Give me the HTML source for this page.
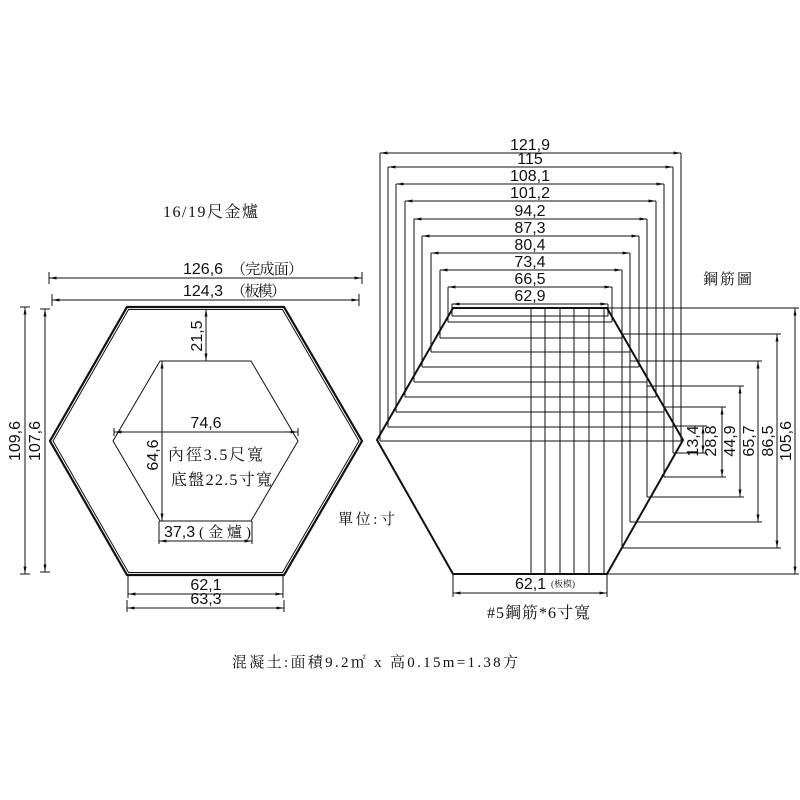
<!DOCTYPE html>
<html><head><meta charset="utf-8"><style>
html,body{margin:0;padding:0;background:#fff;}
svg{display:block;}
.n{font-family:"Liberation Sans",sans-serif;font-size:16px;fill:#111;}
.c{font-family:"Liberation Serif","Noto Serif CJK TC","Noto Sans CJK TC",serif;fill:#111;}
</style></head><body>
<svg width="800" height="800" viewBox="0 0 800 800" xmlns="http://www.w3.org/2000/svg">
<defs>
<marker id="a" viewBox="0 0 10 4" refX="10" refY="2" markerWidth="8" markerHeight="3" orient="auto-start-reverse" markerUnits="userSpaceOnUse"><path d="M0,0 L10,2 L0,4z" fill="#111"/></marker>
</defs>
<g stroke="#111" fill="none" stroke-width="1">
<polygon points="127,307 284,307 362,441 284,575 127,575 50,441" stroke-width="2.2"/>
<polygon points="128.5,309.5 282.5,309.5 359,441 282.5,572.5 128.5,572.5 53,441" stroke-width="1"/>
<polygon points="160,361 251,361 298,441 251,521 160,521 113,441"/>
<line x1="49" y1="278" x2="362" y2="278" marker-start="url(#a)" marker-end="url(#a)"/>
<line x1="49" y1="272" x2="49" y2="284"/><line x1="362" y1="272" x2="362" y2="284"/>
<line x1="52" y1="300" x2="359" y2="300" marker-start="url(#a)" marker-end="url(#a)"/>
<line x1="52" y1="294" x2="52" y2="306"/><line x1="359" y1="294" x2="359" y2="306"/>
<line x1="25" y1="307" x2="25" y2="574" marker-start="url(#a)" marker-end="url(#a)"/>
<line x1="20" y1="307" x2="30" y2="307"/><line x1="20" y1="574" x2="30" y2="574"/>
<line x1="45" y1="309" x2="45" y2="572" marker-start="url(#a)" marker-end="url(#a)"/>
<line x1="40" y1="309" x2="50" y2="309"/><line x1="40" y1="572" x2="50" y2="572"/>
<line x1="206" y1="309" x2="206" y2="361" marker-start="url(#a)" marker-end="url(#a)"/>
<line x1="114" y1="432" x2="298" y2="432" marker-start="url(#a)" marker-end="url(#a)"/>
<line x1="114" y1="428" x2="114" y2="436"/><line x1="298" y1="428" x2="298" y2="436"/>
<line x1="162" y1="361" x2="162" y2="521" marker-start="url(#a)" marker-end="url(#a)"/>
<line x1="159" y1="521" x2="159" y2="544"/><line x1="252" y1="521" x2="252" y2="544"/>
<line x1="159" y1="541" x2="252" y2="541" marker-start="url(#a)" marker-end="url(#a)"/>
<line x1="128" y1="576" x2="128" y2="598"/><line x1="283" y1="576" x2="283" y2="598"/>
<line x1="128" y1="594" x2="283" y2="594" marker-start="url(#a)" marker-end="url(#a)"/>
<line x1="127" y1="600" x2="127" y2="612"/><line x1="284" y1="600" x2="284" y2="612"/>
<line x1="127" y1="608" x2="284" y2="608" marker-start="url(#a)" marker-end="url(#a)"/>

<g stroke-width="1">
<path d="M380,153 V441 M681,153 V441 M380,441 H681"/>
<path d="M388,167 V427 M673,167 V427 M388,427 H673"/>
<path d="M396,184 V412 M664,184 V412 M396,412 H664"/>
<path d="M405,201 V397 M656,201 V397 M405,397 H656"/>
<path d="M414,219 V382 M647,219 V382 M414,382 H647"/>
<path d="M422,236 V367 M639,236 V367 M422,367 H639"/>
<path d="M431,253 V352 M630,253 V352 M431,352 H630"/>
<path d="M440,270 V338 M622,270 V338 M440,338 H622"/>
<path d="M448,287 V322 M612,287 V322 M448,322 H612"/>
<path d="M452,304 V316 M608,304 V316 M452,316 H608"/>
<path d="M622,338 V548 M630,352 V522 M647,382 V497 M664,407 V477 M673,427 V453"/>
<path d="M531,308 V574 M545,308 V574 M560,308 V574 M574,308 V574 M589,308 V574 M604,308 V574"/>
<path d="M607,308 H799 M607,574 H799 M622,334 H781 M622,548 H781 M630,361 H762 M630,522 H762 M647,386 H744 M647,497 H744 M664,407 H726 M664,477 H726 M673,426 H707 M673,453 H707"/>
</g>
<polygon points="453,308 607,308 683,440 607,574 453,574 377,440" stroke-width="2"/>
<g marker-start="url(#a)" marker-end="url(#a)">
<line x1="380" y1="153" x2="681" y2="153"/>
<line x1="388" y1="167" x2="673" y2="167"/>
<line x1="396" y1="184" x2="664" y2="184"/>
<line x1="405" y1="201" x2="656" y2="201"/>
<line x1="414" y1="219" x2="647" y2="219"/>
<line x1="422" y1="236" x2="639" y2="236"/>
<line x1="431" y1="253" x2="630" y2="253"/>
<line x1="440" y1="270" x2="622" y2="270"/>
<line x1="448" y1="287" x2="612" y2="287"/>
<line x1="452" y1="304" x2="608" y2="304"/>
<line x1="795" y1="308" x2="795" y2="574"/>
<line x1="777" y1="334" x2="777" y2="548"/>
<line x1="758" y1="361" x2="758" y2="522"/>
<line x1="740" y1="386" x2="740" y2="497"/>
<line x1="722" y1="407" x2="722" y2="477"/>
<line x1="703" y1="426" x2="703" y2="453"/>
<line x1="453" y1="593" x2="607" y2="593"/>
</g>
<path d="M453,575 V597 M607,575 V597"/>
</g>

<text class="c" x="163" y="217" font-size="16" textLength="95" lengthAdjust="spacing">16/19尺金爐</text>
<text class="n" x="183" y="274">126,6</text><text class="c" x="231" y="274" font-size="15" textLength="72" lengthAdjust="spacing">（完成面）</text>
<text class="n" x="183" y="296">124,3</text><text class="c" x="231" y="296" font-size="15" textLength="55" lengthAdjust="spacing">（板模）</text>
<text class="n" transform="translate(20,441) rotate(-90)" text-anchor="middle">109,6</text>
<text class="n" transform="translate(40,441) rotate(-90)" text-anchor="middle">107,6</text>
<text class="n" transform="translate(202,336) rotate(-90)" text-anchor="middle">21,5</text>
<text class="n" x="206" y="428" text-anchor="middle">74,6</text>
<text class="n" transform="translate(158,455) rotate(-90)" text-anchor="middle">64,6</text>
<text class="c" x="168" y="460" font-size="16" textLength="95" lengthAdjust="spacing">內徑3.5尺寬</text>
<text class="c" x="171" y="485" font-size="16" textLength="101" lengthAdjust="spacing">底盤22.5寸寬</text>
<text class="n" x="164" y="537">37,3</text><text class="c" x="199" y="537" font-size="15" textLength="52" lengthAdjust="spacing">(金爐)</text>
<text class="n" x="206" y="590" text-anchor="middle">62,1</text>
<text class="n" x="206" y="604" text-anchor="middle">63,3</text>
<text class="c" x="338" y="524" font-size="15" textLength="57" lengthAdjust="spacing">單位:寸</text>

<g class="n" text-anchor="middle">
<text x="530" y="150">121,9</text>
<text x="530" y="164">115</text>
<text x="530" y="181">108,1</text>
<text x="530" y="198">101,2</text>
<text x="530" y="216">94,2</text>
<text x="530" y="233">87,3</text>
<text x="530" y="250">80,4</text>
<text x="530" y="267">73,4</text>
<text x="530" y="284">66,5</text>
<text x="530" y="301">62,9</text>
</g>
<text class="c" x="703" y="284" font-size="15" textLength="49" lengthAdjust="spacing">鋼筋圖</text>
<g class="n" text-anchor="middle">
<text transform="translate(698,441) rotate(-90)">13,4</text>
<text transform="translate(716,441) rotate(-90)">28,8</text>
<text transform="translate(735,441) rotate(-90)">44,9</text>
<text transform="translate(754,441) rotate(-90)">65,7</text>
<text transform="translate(773,441) rotate(-90)">86,5</text>
<text transform="translate(791,441) rotate(-90)">105,6</text>
</g>
<text class="n" x="515" y="589">62,1</text><text class="c" x="551" y="587" font-size="9">(板模)</text>
<text class="c" x="487" y="618" font-size="16" textLength="103" lengthAdjust="spacing">#5鋼筋*6寸寬</text>
<text class="c" x="232" y="667" font-size="15" textLength="286" lengthAdjust="spacing">混凝土:面積9.2㎡ x 高0.15m=1.38方</text>
</svg>
</body></html>
